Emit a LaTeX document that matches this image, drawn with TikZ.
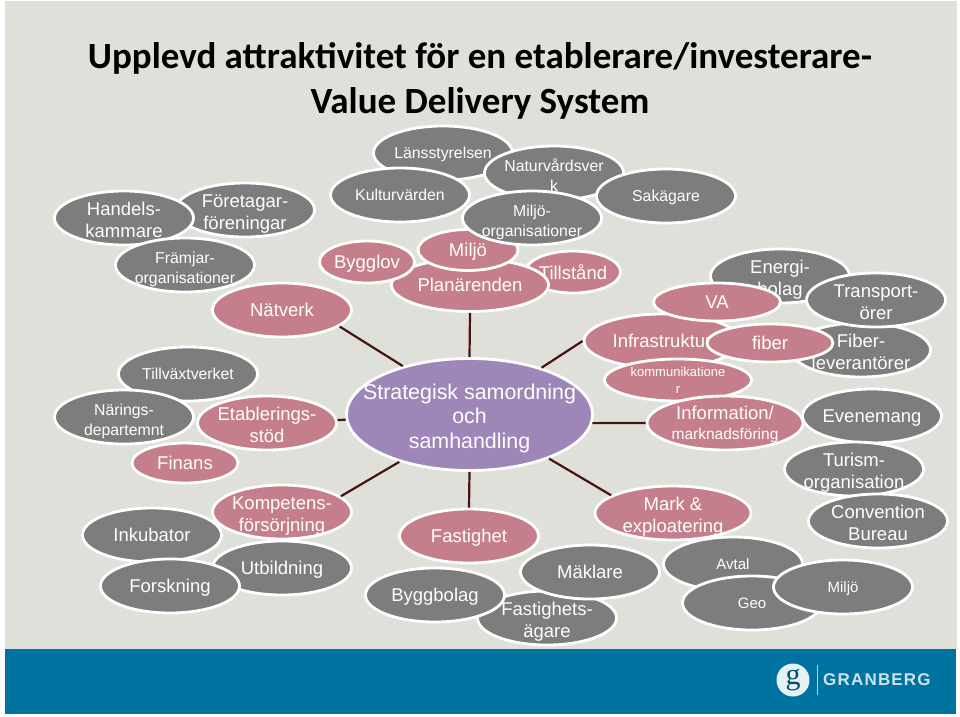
\documentclass[tikz,border=0pt]{standalone}
\usepackage{fontspec}
\setmainfont{Liberation Sans}
\newfontfamily\titlefont{Carlito}
\newfontfamily\logofont[LetterSpace=7]{Liberation Sans}
\newfontfamily\logogfont{Liberation Serif}
\usepackage{tikz}
\usetikzlibrary{shapes.geometric}
\definecolor{slide}{RGB}{223,224,217}
\definecolor{band}{RGB}{0,114,160}
\definecolor{greyball}{RGB}{125,125,125}
\definecolor{pinkball}{RGB}{197,127,140}
\definecolor{hubball}{RGB}{158,134,184}
\definecolor{spoke}{RGB}{70,20,20}
\newcommand{\toppad}{\rule{0pt}{17pt}}
\tikzset{
  ball/.style={ellipse,draw=white,line width=2.8pt,text=white!96!slide,align=center,inner sep=-6pt,text depth=0pt,
    minimum width=139pt,minimum height=54pt,font=\fontsize{18.5}{22.5}\selectfont},
  grey/.style={ball,fill=greyball},
  pink/.style={ball,fill=pinkball},
  small/.style={font=\fontsize{15.8}{19.5}\selectfont},
  tiny/.style={font=\fontsize{15}{18}\selectfont},
  spokeline/.style={draw=spoke,line width=2.2pt}
}
\begin{document}
\begin{tikzpicture}[x=1pt,y=-1pt]
\useasboundingbox (0,0) rectangle (960,716);
\fill[white] (0,0) rectangle (960,716);
\fill[slide] (5,1) rectangle (957,649);
\fill[band] (5,649) rectangle (956,714);
\node[font=\titlefont\bfseries\fontsize{37}{45}\selectfont,align=center] (title) at (480,81)
  {Upplevd attraktivitet för en etablerare/investerare-\\Value Delivery System};

\node[grey] (foretagar) at (245,210) {\toppad Företagar-\\föreningar};
\node[grey] (handels) at (124,218) {\toppad Handels-\\kammare};
\node[grey,small] (framjar) at (185,265) {\toppad Främjar-\\organisationer};
\node[pink] (natverk) at (282,310) {Nätverk};

\node[grey,small] (tillvaxt) at (188,374) {Tillväxtverket};
\node[grey,small] (narings) at (124,417) {\toppad Närings-\\departemnt};
\node[pink] (etablering) at (267,423) {\toppad Etablerings-\\stöd};
\node[pink,minimum width=106pt,minimum height=40pt] (finans) at (185,463) {Finans};

\node[grey] (inkubator) at (152,535) {Inkubator};
\node[pink] (kompetens) at (282,512) {\toppad Kompetens-\\försörjning};
\node[grey] (utbildning) at (282,568) {Utbildning};
\node[grey] (forskning) at (170,586) {Forskning};

\node[grey,small] (lan) at (443,153) {Länsstyrelsen};
\node[grey,small] (natur) at (554,173) {\toppad Naturvårdsver\\k};
\node[grey,small] (kultur) at (400,195) {Kulturvärden};
\node[grey,small] (sakagare) at (666,196) {Sakägare};
\node[pink,minimum width=95pt,minimum height=42pt] (tillstand) at (573,272) {Tillstånd};
\node[pink,minimum width=157pt,minimum height=53pt] (planarenden) at (470,285) {Planärenden};
\node[pink,minimum width=100pt,minimum height=41pt] (miljoplan) at (468,250) {Miljö};
\node[pink,minimum width=95pt,minimum height=42pt] (bygglov) at (367,262) {Bygglov};
\node[grey,small] (miljoorg) at (532,218) {\toppad Miljö-\\organisationer};

\node[grey] (energi) at (780,276) {\toppad Energi-\\bolag};
\node[grey] (fiberlev) at (861,350) {\toppad Fiber-\\leverantörer};
\node[grey] (transport) at (876,300) {\toppad Transport-\\örer};
\node[pink,minimum width=156pt] (infra) at (662,341) {Infrastruktur};
\node[pink,minimum width=127pt,minimum height=38pt] (va) at (717,302) {VA};
\node[pink,minimum width=126pt,minimum height=38pt] (fiber) at (770,343) {fiber};
\node[pink,minimum width=147pt,minimum height=42pt,font=\fontsize{13}{17}\selectfont] (kommunikation) at (678,380) {kommunikatione\\r};
\node[grey] (evenemang) at (872,416) {Evenemang};
\node[pink,minimum width=156pt] (information) at (725,423) {Information/\\[-2pt]{\fontsize{15.5}{20}\selectfont marknadsföring}};
\node[grey] (turism) at (854,469) {\toppad Turism-\\organisation};
\node[grey] (convention) at (878,521) {\toppad Convention\\Bureau};

\node[pink,minimum width=156pt] (mark) at (673,513) {\toppad Mark \&\\exploatering};
\node[grey,tiny] (avtal) at (733,564) {Avtal};
\node[grey,tiny] (geo) at (752,603) {Geo};
\node[grey,tiny] (miljo) at (843,587) {Miljö};
\node[pink] (fastighet) at (469,536) {Fastighet};
\node[grey] (fastighetsagare) at (547,618) {\toppad Fastighets-\\ägare};
\node[grey] (maklare) at (590,572) {Mäklare};
\node[grey] (byggbolag) at (435,595) {Byggbolag};

\node[ball,fill=hubball,inner xsep=-25pt,inner ysep=-5pt,minimum width=246pt,minimum height=112pt,font=\fontsize{21.4}{24.5}\selectfont] (hub) at (469.5,414.5)
  {\rule{0pt}{18.5pt}Strategisk samordning\\och\\samhandling};

\draw[spokeline] (natverk.344) -- (hub.144);
\draw[spokeline] (planarenden.south) -- (hub.north);
\draw[spokeline] (infra.180) -- (hub.33);
\draw[spokeline] (information.west) -- (hub.-4);
\draw[spokeline] (mark.164) -- (hub.331);
\draw[spokeline] (fastighet.north) -- (hub.south);
\draw[spokeline] (kompetens.15) -- (hub.214);
\draw[spokeline] (etablering) -- (hub);

\node[circle,fill=white!90!band,minimum size=33pt,inner sep=0pt,text=band!70!black,font=\logogfont\fontsize{30}{30}\selectfont] (logog) at (793,680) {g};
\draw[white!70!band,line width=.7pt] (817,665) -- (817,695);
\node[anchor=west,inner sep=0pt,text=white!80!band,font=\logofont\bfseries\fontsize{17}{17}\selectfont] (logotext) at (823,680) {GRANBERG};
\end{tikzpicture}
\end{document}
